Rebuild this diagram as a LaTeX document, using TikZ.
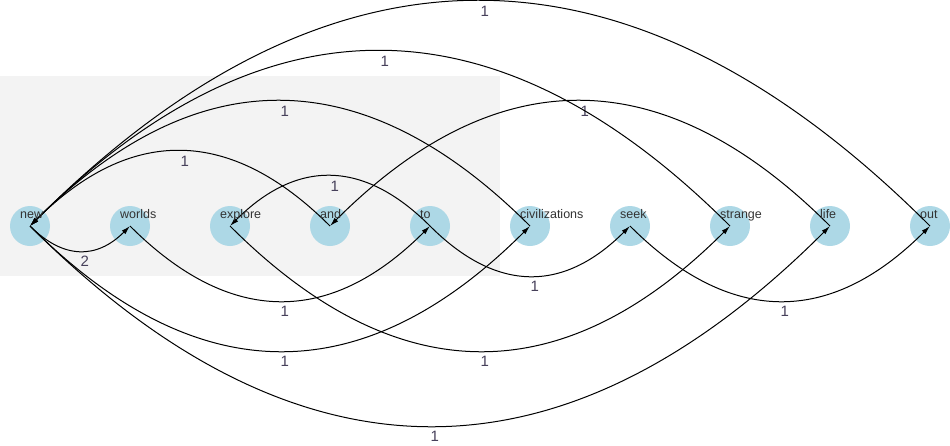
\documentclass[tikz,border=0pt]{standalone}
\usepackage{fontspec}
\setmainfont{Liberation Sans}
\usetikzlibrary{arrows.meta}
\definecolor{bgpanel}{HTML}{F3F3F3}
\definecolor{nodefill}{HTML}{ADD8E6}
\definecolor{wordcol}{HTML}{333333}
\definecolor{countcol}{HTML}{46405A}
\tikzset{
  word/.style={circle, fill=nodefill, draw=none, minimum size=40pt, inner sep=0pt},
  wordtext/.style={anchor=base west, inner sep=0pt, text=wordcol, font=\fontsize{12.5}{14}\selectfont},
  link/.style={draw=black, line width=1pt, -{Latex[length=9pt,width=5pt]}},
  count/.style={pos=0.5, anchor=base west, inner sep=0pt, yshift=-15pt, text=countcol, font=\fontsize{15}{17}\selectfont}
}
\begin{document}
\begin{tikzpicture}[x=1pt,y=-1pt]
\useasboundingbox (0,0) rectangle (950,445);
\fill[bgpanel] (0,76) rectangle (500,276);
% word circles
\node[word] (new) at (30,226) {};
\node[word] (worlds) at (130,226) {};
\node[word] (explore) at (230,226) {};
\node[word] (and) at (330,226) {};
\node[word] (to) at (430,226) {};
\node[word] (civilizations) at (530,226) {};
\node[word] (seek) at (630,226) {};
\node[word] (strange) at (730,226) {};
\node[word] (life) at (830,226) {};
\node[word] (out) at (930,226) {};
% forward links (below)
\draw[link] (new.center) .. controls +(33.33,33.33) and +(-33.33,33.33) .. (worlds.center) node[count] (c1) {2};
\draw[link] (worlds.center) .. controls +(100,100) and +(-100,100) .. (to.center) node[count] (c2) {1};
\draw[link] (to.center) .. controls +(66.67,66.67) and +(-66.67,66.67) .. (seek.center) node[count] (c3) {1};
\draw[link] (seek.center) .. controls +(100,100) and +(-100,100) .. (out.center) node[count] (c4) {1};
\draw[link] (explore.center) .. controls +(166.67,166.67) and +(-166.67,166.67) .. (strange.center) node[count] (c5) {1};
\draw[link] (new.center) .. controls +(166.67,166.67) and +(-166.67,166.67) .. (civilizations.center) node[count] (c6) {1};
\draw[link] (new.center) .. controls +(266.67,266.67) and +(-266.67,266.67) .. (life.center) node[count] (c7) {1};
% backward links (above)
\draw[link] (to.center) .. controls +(-66.67,-66.67) and +(66.67,-66.67) .. (explore.center) node[count] (c8) {1};
\draw[link] (and.center) .. controls +(-100,-100) and +(100,-100) .. (new.center) node[count] (c9) {1};
\draw[link] (civilizations.center) .. controls +(-166.67,-166.67) and +(166.67,-166.67) .. (new.center) node[count] (c10) {1};
\draw[link] (life.center) .. controls +(-166.67,-166.67) and +(166.67,-166.67) .. (and.center) node[count] (c11) {1};
\draw[link] (strange.center) .. controls +(-233.33,-233.33) and +(233.33,-233.33) .. (new.center) node[count] (c12) {1};
\draw[link] (out.center) .. controls +(-300,-300) and +(300,-300) .. (new.center) node[count] (c13) {1};
% word texts
\node[wordtext] (t-new) at (20,218) {new};
\node[wordtext] (t-worlds) at (120,218) {worlds};
\node[wordtext] (t-explore) at (220,218) {explore};
\node[wordtext] (t-and) at (320,218) {and};
\node[wordtext] (t-to) at (420,218) {to};
\node[wordtext] (t-civilizations) at (520,218) {civilizations};
\node[wordtext] (t-seek) at (620,218) {seek};
\node[wordtext] (t-strange) at (720,218) {strange};
\node[wordtext] (t-life) at (820,218) {life};
\node[wordtext] (t-out) at (920,218) {out};
\end{tikzpicture}
\end{document}
